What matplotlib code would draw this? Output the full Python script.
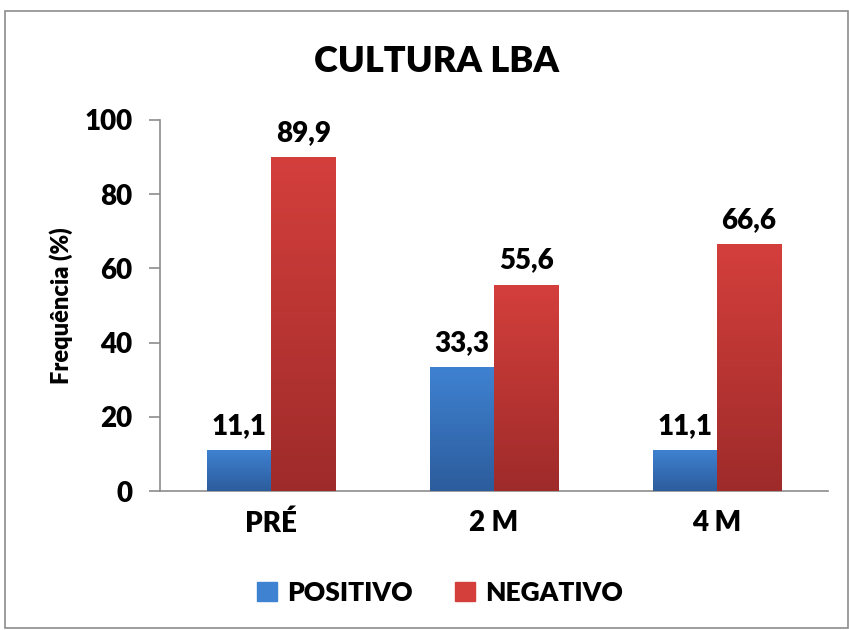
import numpy as np
import matplotlib
matplotlib.use("Agg")
import matplotlib.pyplot as plt
from matplotlib.colors import LinearSegmentedColormap
from matplotlib.patches import Rectangle

categories = ["PRÉ", "2 M", "4 M"]
positivo = [11.1, 33.3, 11.1]
negativo = [89.9, 55.6, 66.6]
series_names = ["POSITIVO", "NEGATIVO"]
labels_pos = ["11,1", "33,3", "11,1"]
labels_neg = ["89,9", "55,6", "66,6"]

plt.rcParams['font.family'] = ['Lato', 'DejaVu Sans']
W = 'heavy'
plt.rcParams['font.weight'] = W

fig = plt.figure(figsize=8.49 * np.array([1, 630 / 849]), dpi=100)
fig.patches.append(Rectangle((5 / 849, 2 / 630), 843 / 849, 617 / 630, transform=fig.transFigure,
                             fill=False, edgecolor='#8c8c8c', linewidth=1.2))

ax = fig.add_axes([160 / 849, 1 - 491 / 630, 668 / 849, 371 / 630])
x = np.arange(len(categories))
w = 0.288
blue_top, blue_bot = '#3f82d2', '#2c5c9c'
red_top, red_bot = '#d43f3c', '#9e2b2a'

b1 = ax.bar(x - w / 2, positivo, w, color=blue_top, label=series_names[0], zorder=2)
b2 = ax.bar(x + w / 2, negativo, w, color=red_top, label=series_names[1], zorder=2)

def grad(bars, top, bot):
    cmap = LinearSegmentedColormap.from_list('g', [bot, top])
    for p in bars:
        x0, y0 = p.get_x(), p.get_y()
        ww, hh = p.get_width(), p.get_height()
        img = np.linspace(0, 1, 256).reshape(-1, 1)
        im = ax.imshow(img, cmap=cmap, aspect='auto', origin='lower',
                       extent=[x0, x0 + ww, y0, y0 + hh], zorder=3)
        im.set_clip_path(p)

grad(b1, blue_top, blue_bot)
grad(b2, red_top, red_bot)

for xi, v, t in zip(x - w / 2, positivo, labels_pos):
    ax.text(xi, v + 3, t, ha='center', va='bottom', fontsize=20, fontweight=W, zorder=4)
for xi, v, t in zip(x + w / 2, negativo, labels_neg):
    ax.text(xi, v + 3, t, ha='center', va='bottom', fontsize=20, fontweight=W, zorder=4)

ax.set_xlim(-0.5, 2.5)
ax.set_ylim(0, 100)
ax.set_yticks([0, 20, 40, 60, 80, 100])
ax.set_xticks(x)
ax.set_xticklabels(categories, fontweight=W)
ax.set_yticklabels(["0", "20", "40", "60", "80", "100"], fontweight=W)
ax.tick_params(axis='y', labelsize=20, length=8, width=1.2, color='#8c8c8c', direction='out', pad=12)
ax.tick_params(axis='x', labelsize=20, length=0, pad=14)
for s in ['top', 'right']:
    ax.spines[s].set_visible(False)
for s in ['left', 'bottom']:
    ax.spines[s].set_color('#8c8c8c')
    ax.spines[s].set_linewidth(1.2)
ax.set_ylabel("Frequência (%)", fontsize=17, fontweight=W, labelpad=8)

fig.text(436 / 849, 1 - 62 / 630, "CULTURA LBA", ha='center', va='center', fontsize=26, fontweight=W)

handles = [Rectangle((0, 0), 1, 1, color=blue_top), Rectangle((0, 0), 1, 1, color=red_top)]
fig.legend(handles, series_names, loc='center', bbox_to_anchor=(440 / 849, 1 - 593 / 630), ncol=2,
           frameon=False, prop={'size': 19, 'weight': W}, handlelength=0.75, handleheight=0.75,
           columnspacing=1.6, handletextpad=0.4)

fig.savefig("out.png", dpi=100)
